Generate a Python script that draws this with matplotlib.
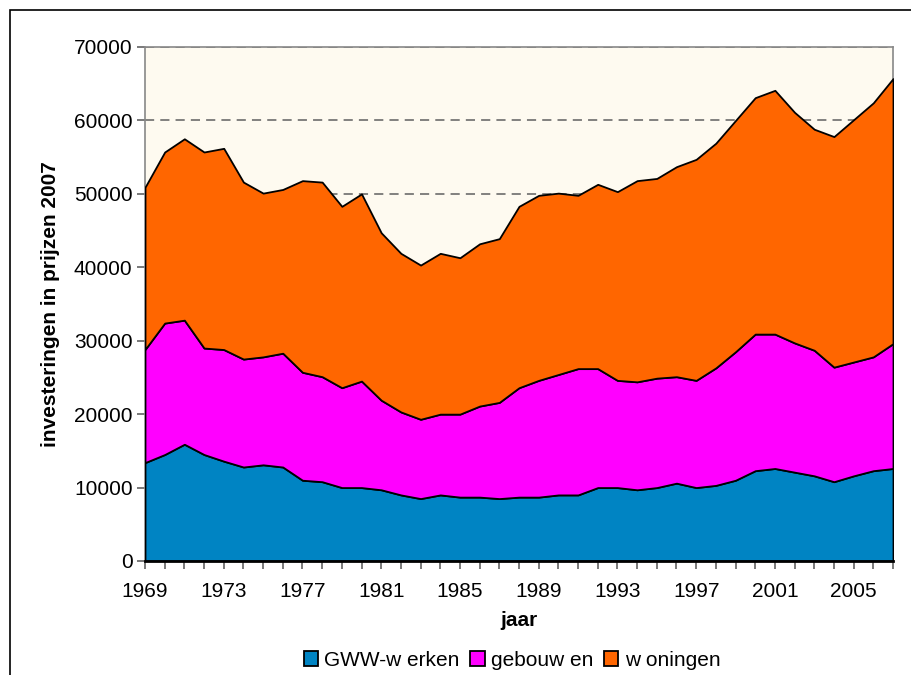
import matplotlib
matplotlib.use("Agg")
from matplotlib import pyplot as plt
from matplotlib.patches import Rectangle
import numpy as np

years = list(range(1969, 2008))

# cumulative levels (x 1000)
gww = [13.4, 14.5, 15.9, 14.5, 13.6, 12.8, 13.1, 12.8, 11.0, 10.8,
       10.0, 10.0, 9.7, 9.0, 8.5, 9.0, 8.7, 8.7, 8.5, 8.7,
       8.7, 9.0, 9.0, 10.0, 10.0, 9.7, 10.0, 10.6, 10.0, 10.3,
       11.0, 12.3, 12.6, 12.1, 11.6, 10.8, 11.6, 12.3, 12.6]
gww_geb = [28.8, 32.4, 32.8, 29.0, 28.8, 27.5, 27.8, 28.3, 25.7, 25.1,
           23.6, 24.5, 21.9, 20.3, 19.3, 20.0, 20.0, 21.1, 21.6, 23.6,
           24.6, 25.4, 26.2, 26.2, 24.6, 24.4, 24.9, 25.1, 24.6, 26.3,
           28.5, 30.9, 30.9, 29.7, 28.7, 26.4, 27.1, 27.8, 29.6]
totaal = [50.9, 55.7, 57.5, 55.7, 56.2, 51.6, 50.1, 50.6, 51.8, 51.6,
          48.3, 50.0, 44.7, 41.9, 40.3, 41.9, 41.3, 43.2, 43.9, 48.3,
          49.8, 50.1, 49.8, 51.3, 50.3, 51.8, 52.1, 53.7, 54.7, 56.9,
          60.0, 63.1, 64.1, 61.1, 58.8, 57.8, 60.1, 62.4, 65.7]

series = ["GWW-w erken", "gebouw en", "w oningen"]
colors = ["#0084C3", "#FF00FF", "#FF6600"]

gww = np.array(gww) * 1000
gebouwen = np.array(gww_geb) * 1000 - gww
woningen = np.array(totaal) * 1000 - np.array(gww_geb) * 1000

plt.rcParams["font.family"] = ["Liberation Sans", "DejaVu Sans"]
fs = 15

W, H = 911, 675
fig = plt.figure(figsize=(W / 100, H / 100), dpi=100)
fig.patches.append(Rectangle((10 / W, -0.1), 1.2, 1 - 10 / H + 0.1,
                             transform=fig.transFigure, fill=False,
                             edgecolor="black", linewidth=1.2))

ax = fig.add_axes([145 / W, (H - 561) / H, (893 - 145) / W, (561 - 47) / H])
ax.set_facecolor("#FEFAF0")

ax.stackplot(years, gww, gebouwen, woningen, colors=colors, labels=series,
             edgecolor="black", linewidth=1.3, zorder=3)

ax.set_xlim(1969, 2007)
ax.set_ylim(0, 70000)
ax.set_yticks(range(0, 70001, 10000))
ax.set_xticks(range(1969, 2007, 4))
ax.set_xticks(years, minor=True)
ax.yaxis.grid(True, linestyle=(0, (6, 4)), color="#606060", linewidth=1.1, zorder=1)
ax.set_axisbelow(True)

for s in ["top", "right", "left"]:
    ax.spines[s].set_color("#888888")
    ax.spines[s].set_linewidth(1.2)
ax.spines["bottom"].set_color("black")
ax.spines["bottom"].set_linewidth(2)
ax.spines["bottom"].set_zorder(5)

ax.tick_params(axis="both", which="both", direction="out", labelsize=fs,
               color="#555555", width=1.1)
ax.tick_params(axis="x", which="major", length=6, pad=9)
ax.tick_params(axis="x", which="minor", length=6)
ax.tick_params(axis="y", length=6, pad=3)

ax.set_xlabel("jaar", fontsize=fs, fontweight="bold", labelpad=7)
ax.set_ylabel("investeringen in prijzen 2007", fontsize=fs,
              fontweight="bold", labelpad=10)

ax.legend(loc="center", bbox_to_anchor=(512 / W, 15 / H),
          bbox_transform=fig.transFigure, ncol=3, frameon=False,
          fontsize=fs, handlelength=0.7, handleheight=0.7,
          handletextpad=0.3, columnspacing=0.5, borderpad=0)

fig.savefig("out.png", dpi=100)
